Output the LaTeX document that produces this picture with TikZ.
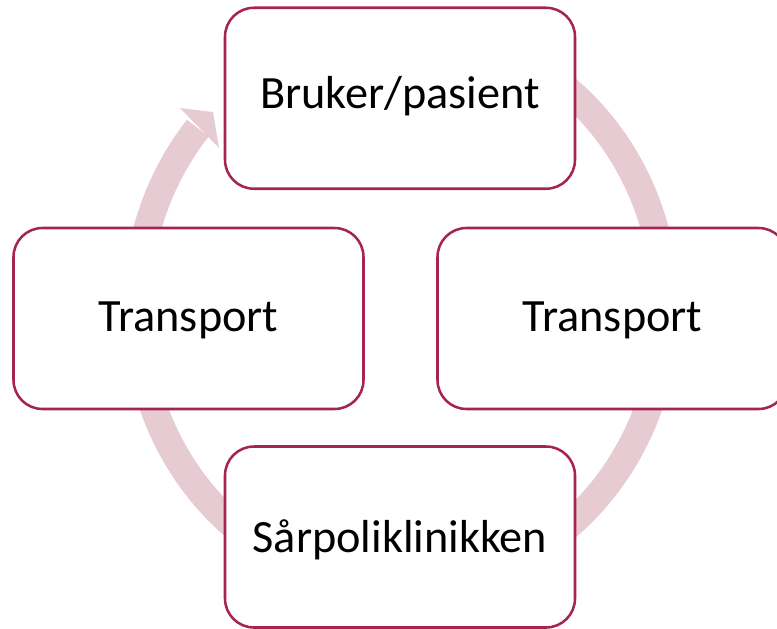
\documentclass[tikz,border=0pt]{standalone}
\usepackage{fontspec}
\setmainfont{Carlito}
\definecolor{ringc}{RGB}{230,204,210}
\definecolor{boxc}{RGB}{166,36,80}
\begin{document}
\begin{tikzpicture}[x=0.75pt,y=0.75pt,
  stepbox/.style={draw=boxc, line width=1.9pt, fill=white,
    rounded corners=21.75pt, minimum width=262.5pt, minimum height=135.75pt,
    inner sep=0pt, text depth=0pt, text height=18.75pt,
    font=\fontsize{34.7}{41}\selectfont},
  ringline/.style={draw=ringc, line width=20.6pt, line cap=butt},
  ringhead/.style={fill=ringc}]
\useasboundingbox (0,0) rectangle (777,-628);
\coordinate (C) at (401,-308);
% circular arrow behind the boxes
\draw[ringline] ([shift={(100:264.5 and 281)}]C)
  arc[start angle=100, end angle=-219.8, x radius=264.5, y radius=281];
\coordinate (hout) at (180,-108);
\coordinate (htip) at (213,-112);
\coordinate (hin) at (219,-148);
\fill[ringhead] (hout) -- (htip) -- (hin) -- cycle;
% boxes
\node[stepbox, text height=16.1pt] (top) at (400,-98.25) {Bruker/pasient};
\node[stepbox] (left) at (188.5,-318.5) {Transport};
\node[stepbox] (right) at (612.5,-318.5) {Transport};
\node[stepbox, text height=22.5pt] (bottom) at (400,-537) {Sårpoliklinikken};
\end{tikzpicture}
\end{document}
